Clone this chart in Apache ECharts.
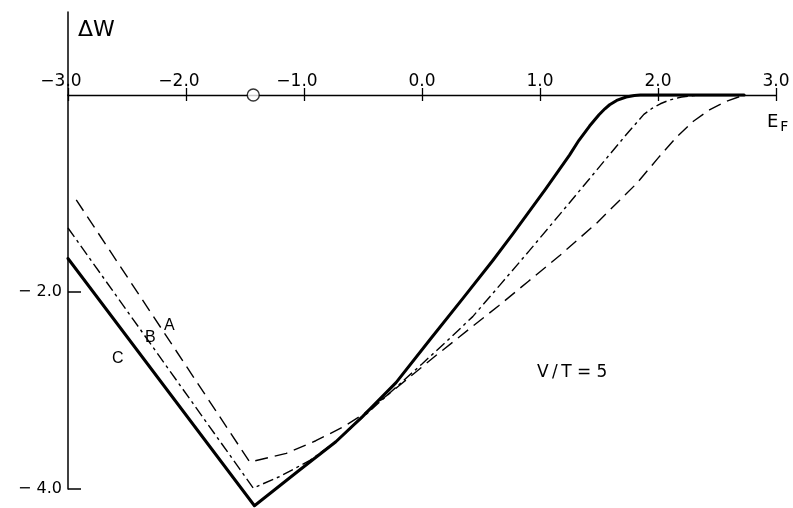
<!DOCTYPE html>
<html>
<head>
<meta charset="utf-8">
<script src="https://cdn.jsdelivr.net/npm/echarts@6/dist/echarts.min.js"></script>
<style>
html,body{margin:0;padding:0;background:#fff;}
#c{width:793px;height:508px;}
</style>
</head>
<body>
<div id="c"></div>
<script>
// Curve A (long dashed)
const aX = [-2.93, -1.46, -1.15, -0.90, -0.67, -0.50, -0.20, 0.10, 0.40, 0.65, 0.90, 1.17, 1.48, 1.82, 2.00, 2.16, 2.30, 2.44, 2.59, 2.73];
const aY = [-1.065, -3.726, -3.638, -3.51, -3.371, -3.243, -2.957, -2.662, -2.376, -2.139, -1.893, -1.627, -1.301, -0.897, -0.641, -0.424, -0.266, -0.148, -0.059, 0];
// Curve B (dash-dot)
const bX = [-3.00, -1.43, -1.20, -0.95, -0.73, -0.50, -0.25, 0.00, 0.20, 0.43, 0.66, 0.91, 1.19, 1.42, 1.60, 1.75, 1.88, 1.95, 2.02, 2.10, 2.20, 2.30, 2.40, 2.73];
const bY = [-1.35, -3.99, -3.87, -3.71, -3.52, -3.27, -3.00, -2.73, -2.51, -2.25, -1.93, -1.58, -1.18, -0.85, -0.59, -0.375, -0.197, -0.135, -0.089, -0.05, -0.02, -0.006, 0, 0];
// Curve C (solid, heavy)
const cX = [-3.00, -1.42, -1.04, -0.73, -0.50, -0.22, 0.07, 0.35, 0.60, 0.77, 1.05, 1.25, 1.33, 1.42, 1.50, 1.55, 1.59, 1.65, 1.73, 1.80, 1.85, 2.73];
const cY = [-1.66, -4.17, -3.81, -3.52, -3.26, -2.92, -2.48, -2.06, -1.68, -1.41, -0.95, -0.61, -0.46, -0.315, -0.20, -0.14, -0.099, -0.055, -0.02, -0.005, 0, 0];
// Marker on the energy axis
const markerX = [-1.43];
const markerY = [0];
// Axis ticks
const xTickMin = -3, xTickMax = 3, xTickStep = 1;
const yTickValues = [-4, -2];

const zip = (xs, ys) => xs.map((x, i) => [x, ys[i]]);
const font = '"DejaVu Sans", "Liberation Sans", sans-serif';
const fontL = '"Liberation Sans", "DejaVu Sans", sans-serif';
const fmtX = v => (v < 0 ? '{t|\u2212' + Math.abs(v).toFixed(1) + '}{p|}' : '{t|' + v.toFixed(1) + '}');
const fmtY = v => (v < 0 ? '\u2212 ' + Math.abs(v).toFixed(1) : v.toFixed(1));

const chart = echarts.init(document.getElementById('c'), null, {renderer: 'canvas'});
chart.setOption({
  animation: false,
  backgroundColor: '#fff',
  grid: [
    {left: 68, right: 17, top: 95, bottom: 19, containLabel: false, outerBoundsMode: 'none'},
    {left: 68, right: 17, top: 12, height: 83, containLabel: false, outerBoundsMode: 'none'}
  ],
  xAxis: [
    {
      gridIndex: 0, type: 'value', position: 'top', min: xTickMin, max: xTickMax, interval: xTickStep,
      axisLine: {show: true, onZero: false, lineStyle: {color: '#000', width: 1.3}},
      axisTick: {show: true, inside: false, length: 7, lineStyle: {color: '#000', width: 1.3}},
      axisLabel: {show: true, margin: 5, color: '#000', fontSize: 17, fontFamily: font, formatter: fmtX,
        rich: {t: {fontSize: 17, fontFamily: font, color: '#000'}, p: {width: 14, fontSize: 17}}},
      splitLine: {show: false}
    },
    {
      gridIndex: 0, type: 'value', position: 'top', min: xTickMin, max: xTickMax, interval: xTickStep,
      axisLine: {show: false, onZero: false},
      axisTick: {show: true, inside: true, length: 6, lineStyle: {color: '#000', width: 1.3}},
      axisLabel: {show: false},
      splitLine: {show: false}
    },
    {
      gridIndex: 1, type: 'value', min: xTickMin, max: xTickMax, show: false
    }
  ],
  yAxis: [
    {
      gridIndex: 0, type: 'value', position: 'left', min: -4, max: 0, interval: 2,
      axisLine: {show: true, onZero: false, lineStyle: {color: '#000', width: 1.5}},
      axisTick: {show: true, inside: true, length: 13, customValues: yTickValues, lineStyle: {color: '#000', width: 1.5}},
      axisLabel: {show: true, margin: 6, color: '#000', fontSize: 16, fontFamily: font,
        customValues: yTickValues, formatter: fmtY},
      splitLine: {show: false}
    },
    {
      gridIndex: 1, type: 'value', position: 'left', min: 0, max: 1,
      axisLine: {show: true, onZero: false, lineStyle: {color: '#000', width: 1.5}},
      axisTick: {show: false}, axisLabel: {show: false}, splitLine: {show: false}
    }
  ],
  series: [
    {
      name: 'A', type: 'line', xAxisIndex: 0, yAxisIndex: 0, data: zip(aX, aY), showSymbol: false, clip: false,
      lineStyle: {color: '#000', width: 1.4, type: [13, 7]}, z: 3
    },
    {
      name: 'B', type: 'line', xAxisIndex: 0, yAxisIndex: 0, data: zip(bX, bY), showSymbol: false, clip: false,
      lineStyle: {color: '#000', width: 1.4, type: [11, 4, 3, 4]}, z: 3
    },
    {
      name: 'C', type: 'line', xAxisIndex: 0, yAxisIndex: 0, data: zip(cX, cY), showSymbol: false, clip: false,
      lineStyle: {color: '#000', width: 3, join: 'round', cap: 'round'}, z: 4
    },
    {
      name: 'marker', type: 'scatter', xAxisIndex: 0, yAxisIndex: 0, data: zip(markerX, markerY), symbol: 'circle', symbolSize: 12,
      clip: false, itemStyle: {color: '#fff', borderColor: '#000', borderWidth: 1.4}, z: 6
    }
  ],
  graphic: [
    {type: 'text', left: 78, top: 19, style: {text: 'ΔW', fontSize: 22, fontFamily: font, fill: '#000'}},
    {type: 'text', left: 767, top: 113, style: {
      text: '{e|E}{f|F}', fill: '#000',
      rich: {e: {fontSize: 18, fontFamily: font, fill: '#000'}, f: {fontSize: 14, fontFamily: font, fill: '#000', padding: [10, 0, 0, 2]}}
    }},
    {type: 'text', left: 164, top: 318, style: {text: 'A', fontSize: 16, fontFamily: fontL, fill: '#000'}},
    {type: 'text', left: 145, top: 330, style: {text: 'B', fontSize: 16, fontFamily: fontL, fill: '#000'}},
    {type: 'text', left: 112, top: 351, style: {text: 'C', fontSize: 16, fontFamily: fontL, fill: '#000'}},
    {type: 'text', left: 537, top: 364, style: {text: 'V\u2009/\u2009T = 5', fontSize: 17, fontFamily: font, fill: '#000'}}
  ]
});
</script>
</body>
</html>
